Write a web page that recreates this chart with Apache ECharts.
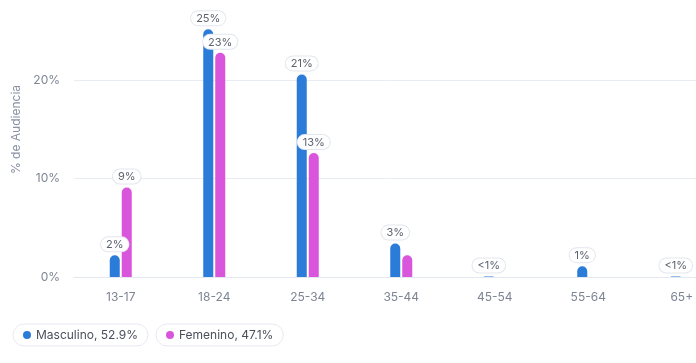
<!DOCTYPE html>
<html><head><meta charset="utf-8">
<script src="https://cdn.jsdelivr.net/npm/echarts@6/dist/echarts.min.js"></script>
<style>html,body{margin:0;padding:0;background:#fff}#c{width:696px;height:363px}</style>
</head><body><div id="c"></div>
<script>
const categories = ['13-17','18-24','25-34','35-44','45-54','55-64','65+'];
const masculino = [2.2, 25.2, 20.6, 3.4, 0.05, 1.1, 0.05];
const femenino = [9.1, 22.8, 12.6, 2.2, 0, 0, 0];
const seriesNames = ['Masculino, 52.9%', 'Femenino, 47.1%'];
const yTicks = [0, 10, 20, 30];

function fmt(p){ const v=p.value; if(!v) return ''; if(v<1) return '<1%'; return Math.round(v)+'%'; }
const lbl = {
  show:true, position:'top', distance:4, formatter:fmt,
  backgroundColor:'#fff', borderColor:'#e2e6ee', borderWidth:1, borderRadius:8,
  padding:[2,5,1,5], color:'#5c6370', fontSize:11, fontFamily:'Inter'
};
function toData(arr){ return arr.map(v => v ? v : {value:v, label:{show:false}}); }
const chart = echarts.init(document.getElementById('c'));
chart.setOption({
  animation:false,
  textStyle:{fontFamily:'Inter'},
  grid:{left:74, width:654.5, height:295, bottom:86, containLabel:false, outerBoundsMode:'none'},
  xAxis:{type:'category', data:categories,
    axisLine:{lineStyle:{color:'#e3e7f0'}}, axisTick:{show:false},
    axisLabel:{color:'#7d8594', fontSize:12, margin:14}},
  yAxis:{type:'value', min:yTicks[0], max:yTicks[yTicks.length-1], interval:10,
    name:'% de Audiencia', nameLocation:'middle', nameGap:48,
    nameTextStyle:{color:'#8a92a3', fontSize:12},
    axisLabel:{color:'#7d8594', fontSize:12, margin:14, formatter:'{value}%'},
    splitLine:{lineStyle:{color:'#e8edf5'}}},
  legend:[
    {data:[seriesNames[0]], left:13, top:324, icon:'circle', itemWidth:8, itemHeight:8, itemGap:6,
     borderColor:'#e6e9f0', borderWidth:1, borderRadius:12, padding:[5,10,5,10],
     textStyle:{color:'#4a4f5c', fontSize:12}},
    {data:[seriesNames[1]], left:156, top:324, icon:'circle', itemWidth:8, itemHeight:8, itemGap:6,
     borderColor:'#e6e9f0', borderWidth:1, borderRadius:12, padding:[5,10,5,10],
     textStyle:{color:'#4a4f5c', fontSize:12}}
  ],
  series:[
    {name:seriesNames[0], type:'bar', data:toData(masculino), barWidth:10, barGap:'20%',
     itemStyle:{color:'#2b7bd9', borderRadius:[5,5,0,0]}, label:lbl, labelLayout:{hideOverlap:true}},
    {name:seriesNames[1], type:'bar', data:toData(femenino), barWidth:10, barGap:'20%',
     itemStyle:{color:'#d955db', borderRadius:[5,5,0,0]}, label:lbl, labelLayout:{hideOverlap:true}}
  ]
});
</script></body></html>
